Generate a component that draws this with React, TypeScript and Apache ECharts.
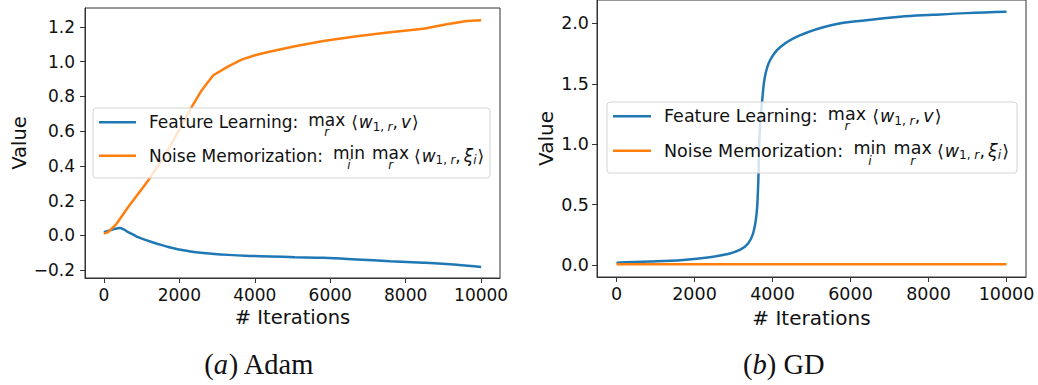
import React, { useEffect, useRef } from 'react';
import * as echarts from 'echarts';

// ---------- data ----------
const xTicks = [0, 2000, 4000, 6000, 8000, 10000];
const adamYTicks = [-0.2, 0.0, 0.2, 0.4, 0.6, 0.8, 1.0, 1.2];
const gdYTicks = [0.0, 0.5, 1.0, 1.5, 2.0];

const adamFeatureIters = [0, 160, 300, 424, 530, 645, 780, 910, 1100, 1265, 1500, 1706, 2000, 2236, 2500, 2857, 3300, 3740, 4400, 5066, 5817, 6703, 7586, 8470, 9355, 10000];
const adamFeatureValues = [0.019, 0.029, 0.038, 0.042, 0.034, 0.019, 0.004, -0.010, -0.026, -0.038, -0.053, -0.067, -0.081, -0.090, -0.098, -0.105, -0.112, -0.117, -0.121, -0.125, -0.129, -0.138, -0.148, -0.157, -0.169, -0.182];

const adamNoiseIters = [0, 114, 200, 337, 645, 910, 1175, 1530, 1795, 2060, 2326, 2591, 2750, 2900, 3298, 3652, 4005, 4358, 5066, 5817, 6703, 7586, 8470, 9090, 9620, 10000];
const adamNoiseValues = [0.010, 0.019, 0.037, 0.067, 0.163, 0.240, 0.316, 0.432, 0.528, 0.633, 0.738, 0.834, 0.880, 0.921, 0.972, 1.011, 1.036, 1.055, 1.088, 1.118, 1.145, 1.168, 1.189, 1.214, 1.233, 1.237];

const gdFeatureIters = [0, 854, 1708, 2393, 2820, 3162, 3375, 3504, 3590, 3625, 3645, 3660, 3690, 3735, 3803, 3931, 4187, 4700, 5554, 6410, 7264, 8118, 8974, 10000];
const gdFeatureValues = [0.021, 0.030, 0.044, 0.066, 0.090, 0.126, 0.180, 0.264, 0.420, 0.600, 0.800, 1.000, 1.200, 1.360, 1.553, 1.690, 1.800, 1.900, 1.988, 2.026, 2.054, 2.070, 2.084, 2.095];

const gdNoiseIters = [0, 2000, 4000, 6000, 8000, 10000];
const gdNoiseValues = [0.007, 0.007, 0.007, 0.007, 0.007, 0.007];

const seriesNames = ['Feature Learning', 'Noise Memorization'];
const captionLetters = ['a', 'b'];
const captionNames = ['Adam', 'GD'];
const xAxisTitle = '# Iterations';
const yAxisTitle = 'Value';

const BLUE = '#1f77b4';
const ORANGE = '#ff7f0e';
const FONT = 'DejaVu Sans';
const TEXT = '#111';
const SPINE = '#333';

const pairs = (xs: number[], ys: number[]) => xs.map((x, i) => [x, ys[i]]);

// legend rows (math text pieces)
type Piece = { t?: string; it?: boolean; sub?: boolean; shift?: number; under?: string; gap?: number };
const featureRow: Piece[] = [
  { t: seriesNames[0] + ':' }, { gap: 10 },
  { t: 'max', shift: -2.5, under: 'r' }, { gap: 6 },
  { t: '⟨' }, { gap: 1 }, { t: 'w', it: true }, { t: '1,', sub: true, shift: 2.5 }, { gap: 3.5 }, { t: 'r', sub: true, it: true, shift: 2.5 },
  { t: ',' }, { gap: 3 }, { t: 'v', it: true }, { gap: 1 }, { t: '⟩' },
];
const noiseRow: Piece[] = [
  { t: seriesNames[1] + ':' }, { gap: 10 },
  { t: 'min', shift: -2.5, under: 'i' }, { gap: 7 },
  { t: 'max', shift: -2.5, under: 'r' }, { gap: 5 },
  { t: '⟨' }, { gap: 1 }, { t: 'w', it: true }, { t: '1,', sub: true, shift: 2.5 }, { gap: 3.5 }, { t: 'r', sub: true, it: true, shift: 2.5 },
  { t: ',' }, { gap: 3 }, { t: 'ξ', it: true }, { t: 'i', sub: true, it: true, shift: 2.5 }, { gap: 1 }, { t: '⟩' },
];

function legendElements(ctx: CanvasRenderingContext2D, cfg: any) {
  const { x0, y0, x1, y1, lineX0, lineX1, rowY, textX, fs } = cfg;
  const k = fs / 17;
  const els: any[] = [];
  els.push({
    type: 'rect', z: 100,
    shape: { x: x0, y: y0, width: x1 - x0, height: y1 - y0, r: 3 },
    style: { fill: 'rgba(255,255,255,0.8)', stroke: '#d4d4d4', lineWidth: 1 },
  });
  const rows = [featureRow, noiseRow];
  const cols = [BLUE, ORANGE];
  rows.forEach((row, i) => {
    const ry = rowY[i];
    const baseline = ry + 0.346 * fs;
    els.push({
      type: 'line', z: 101,
      shape: { x1: lineX0, y1: ry, x2: lineX1, y2: ry },
      style: { stroke: cols[i], lineWidth: 2.5 },
    });
    let x = textX;
    row.forEach((p) => {
      if (p.gap) { x += p.gap * k; return; }
      const size = (p.sub ? 11.9 : 17) * k;
      ctx.font = `${p.it ? 'italic ' : ''}${size}px "${FONT}"`;
      const w = ctx.measureText(p.t as string).width;
      const y = baseline + (p.shift || 0) * k - 0.346 * size;
      if (p.under) {
        // operator with its limit set underneath, as one two-line text
        const us = 11.9 * k;
        const yUnder = baseline + 7.8 * k - 0.346 * us;
        const L2 = 10 * k;
        const L1 = 2 * (yUnder - y) - L2;
        els.push({
          type: 'text', z: 102, x: x + w / 2, y: y - L1 / 2,
          style: {
            text: `{op|${p.t}}\n{ul|${p.under}}`,
            rich: {
              op: { fontSize: size, fontFamily: FONT, fill: TEXT, lineHeight: L1 },
              ul: { fontSize: us, fontFamily: FONT, fontStyle: 'italic', fill: TEXT, lineHeight: L2 },
            },
            align: 'center', verticalAlign: 'top',
          },
        });
      } else {
        els.push({
          type: 'text', z: 102, x, y,
          style: { text: p.t, fontSize: size, fontFamily: FONT, fontStyle: p.it ? 'italic' : 'normal', fill: TEXT, align: 'left', verticalAlign: 'middle' },
        });
      }
      x += w;
    });
  });
  return els;
}

function xAxisCfg(gridIndex: number, fs: number, nameFs: number) {
  return {
    type: 'value', gridIndex, min: -500, max: 10500,
    axisLine: { show: true, onZero: false, lineStyle: { color: SPINE, width: 1 } },
    axisTick: { show: true, length: 5, customValues: xTicks, lineStyle: { color: SPINE, width: 1 } },
    axisLabel: { customValues: xTicks, fontSize: fs, fontFamily: FONT, color: TEXT, margin: 8, formatter: (v: number) => String(v) },
    splitLine: { show: false },
    name: xAxisTitle, nameLocation: 'middle', nameGap: 29,
    nameTextStyle: { fontSize: nameFs, fontFamily: FONT, color: TEXT },
  };
}

function yAxisCfg(gridIndex: number, min: number, max: number, ticks: number[], fs: number, nameFs: number, nameGap: number, margin: number) {
  return {
    type: 'value', gridIndex, min, max,
    axisLine: { show: true, onZero: false, lineStyle: { color: SPINE, width: 1 } },
    axisTick: { show: true, length: 5, customValues: ticks, lineStyle: { color: SPINE, width: 1 } },
    axisLabel: {
      customValues: ticks, fontSize: fs, fontFamily: FONT, color: TEXT, margin,
      formatter: (v: number) => v.toFixed(1).replace('-', '\u2212'),
    },
    splitLine: { show: false },
    name: yAxisTitle, nameLocation: 'middle', nameGap,
    nameTextStyle: { fontSize: nameFs, fontFamily: FONT, color: TEXT },
  };
}

export default function App() {
  const ref = useRef<HTMLDivElement>(null);
  useEffect(() => {
    if (!ref.current) return;
    const chart = echarts.init(ref.current, undefined, { renderer: 'svg' });
    const canvas = document.createElement('canvas');
    const ctx = canvas.getContext('2d') as CanvasRenderingContext2D;

    const legendL = legendElements(ctx, { x0: 93, y0: 108, x1: 490, y1: 178, lineX0: 99, lineX1: 136, rowY: [122.3, 155.7], textX: 149, fs: 17 });
    const legendR = legendElements(ctx, { x0: 607, y0: 102, x1: 1017, y1: 173, lineX0: 613, lineX1: 651, rowY: [116.2, 150.7], textX: 664, fs: 17.5 });

    const captionEl = (cx: number, i: number) => ({
      type: 'text', z: 102, x: cx, y: 364.4,
      style: {
        text: `{n|(}{i|${captionLetters[i]}}{n|) ${captionNames[i]}}`,
        rich: {
          n: { fontSize: 28.5, fontFamily: 'Liberation Serif', fill: TEXT },
          i: { fontSize: 28.5, fontFamily: 'Liberation Serif', fontStyle: 'italic', fill: TEXT },
        },
        align: 'center', verticalAlign: 'middle',
      },
    });

    const lineSeries = (name: string, xi: number, data: number[][], color: string, smooth: any) => ({
      type: 'line', name, xAxisIndex: xi, yAxisIndex: xi, data,
      showSymbol: false, symbol: 'none', smooth, clip: true,
      lineStyle: { color, width: 2.5 }, itemStyle: { color },
    });

    chart.setOption({
      animation: false,
      backgroundColor: '#fff',
      grid: [
        { left: 85, top: 8, width: 415, height: 270, show: true, borderColor: SPINE, borderWidth: 1, backgroundColor: 'transparent' },
        { left: 597, top: -1, width: 429, height: 278, show: true, borderColor: SPINE, borderWidth: 1, backgroundColor: 'transparent' },
      ],
      xAxis: [xAxisCfg(0, 17, 19.5), xAxisCfg(1, 17.5, 20)],
      yAxis: [
        yAxisCfg(0, -0.245, 1.308, adamYTicks, 17, 19.5, 55, 10),
        yAxisCfg(1, -0.0975, 2.1925, gdYTicks, 17.5, 20, 41, 8),
      ],
      series: [
        lineSeries(seriesNames[0], 0, pairs(adamFeatureIters, adamFeatureValues), BLUE, 0.4),
        lineSeries(seriesNames[1], 0, pairs(adamNoiseIters, adamNoiseValues), ORANGE, false),
        lineSeries(seriesNames[0], 1, pairs(gdFeatureIters, gdFeatureValues), BLUE, 0.4),
        lineSeries(seriesNames[1], 1, pairs(gdNoiseIters, gdNoiseValues), ORANGE, false),
      ],
      graphic: [...legendL, ...legendR, captionEl(259.2, 0), captionEl(783.8, 1)],
    });
    return () => chart.dispose();
  }, []);
  return (
    <div
      ref={ref}
      style={{ position: 'fixed', left: 0, top: 0, width: 1038, height: 385, background: '#fff' }}
    />
  );
}
